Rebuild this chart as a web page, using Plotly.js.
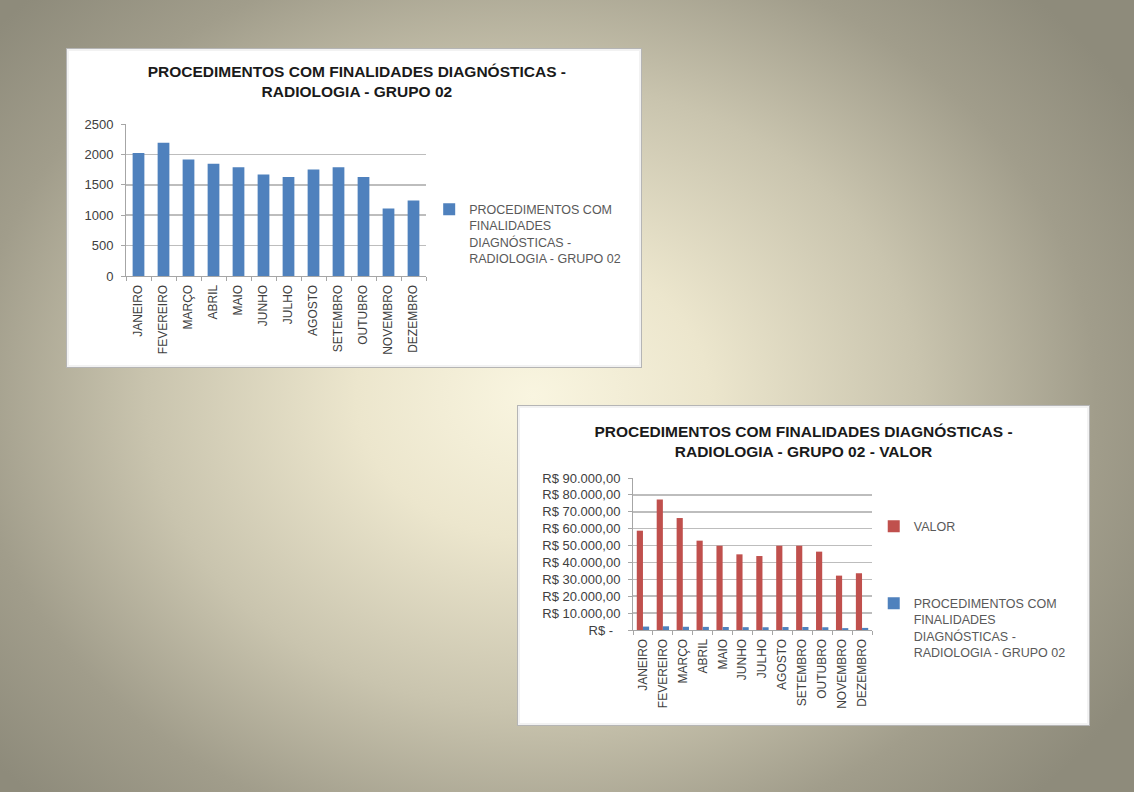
<!DOCTYPE html>
<html>
<head>
<meta charset="utf-8">
<script src="https://cdn.plot.ly/plotly-3.0.1.min.js"></script>
<style>
  html, body { margin:0; padding:0; width:1134px; height:792px; overflow:hidden; }
  body {
    background: radial-gradient(ellipse 62% 72% at 47% 50%, #f9f5e0 0%, #ece6cd 25%, #c9c4ae 55%, #a19d8b 80%, #8e8b7b 100%);
    font-family: "Liberation Sans", Arial, sans-serif;
  }
  .panel { position:absolute; background:#fff; border:1px solid #b5b5b5; box-shadow: inset 0 0 0 2px #f2f2f2; }
</style>
</head>
<body>
<div id="c1" class="panel" style="left:66px; top:48px; width:574px; height:318px;"></div>
<div id="c2" class="panel" style="left:517px; top:405px; width:571px; height:319px;"></div>
<script>
// ---- data ----
const months = ["JANEIRO","FEVEREIRO","MARÇO","ABRIL","MAIO","JUNHO","JULHO","AGOSTO","SETEMBRO","OUTUBRO","NOVEMBRO","DEZEMBRO"];
const procedimentos = [2025, 2190, 1915, 1845, 1790, 1670, 1630, 1750, 1790, 1630, 1110, 1240];
const valor = [58800, 77200, 66300, 52900, 49900, 44800, 43800, 49900, 49900, 46400, 32200, 33600];
const countTicks = [0, 500, 1000, 1500, 2000, 2500];
const valorTicks = [0, 10000, 20000, 30000, 40000, 50000, 60000, 70000, 80000, 90000];
const valorTickText = ["R$ -\u00a0\u00a0", "R$ 10.000,00", "R$ 20.000,00", "R$ 30.000,00", "R$ 40.000,00", "R$ 50.000,00", "R$ 60.000,00", "R$ 70.000,00", "R$ 80.000,00", "R$ 90.000,00"];
const title1 = "PROCEDIMENTOS COM FINALIDADES DIAGNÓSTICAS -<br>RADIOLOGIA - GRUPO 02";
const title2 = "PROCEDIMENTOS COM FINALIDADES DIAGNÓSTICAS -<br>RADIOLOGIA - GRUPO 02 - VALOR";
const seriesName = "PROCEDIMENTOS COM<br>FINALIDADES<br>DIAGNÓSTICAS -<br>RADIOLOGIA - GRUPO 02";
const valorName = "VALOR";

const BLUE = "#4F81BD", RED = "#C0504D";
const FONT = "Liberation Sans, Arial, sans-serif";
const tickFont = {family: FONT, size: 13, color: "#404040"};
const legFont = {family: FONT, size: 12.5, color: "#595959"};
const titleFont = {family: FONT, size: 15.5, color: "#1a1a1a", weight: "bold"};

function xaxisCfg() {
  return {
    type: "category", tickangle: -90, tickfont: {family: FONT, size: 12, color: "#404040"},
    showline: true, linecolor: "#a6a6a6", linewidth: 1,
    ticks: "outside", tickson: "boundaries", ticklen: 4, tickcolor: "#a6a6a6",
    ticklabelstandoff: 3, showgrid: false, fixedrange: true
  };
}
function yaxisCfg(extra) {
  return Object.assign({
    tickfont: tickFont, showgrid: true, gridcolor: "#bdbdbd", gridwidth: 1.5,
    showline: true, linecolor: "#a6a6a6", ticks: "outside", ticklen: 4, tickcolor: "#a6a6a6",
    ticklabelstandoff: 5, zeroline: false, fixedrange: true
  }, extra);
}

// ---- chart 1 ----
Plotly.newPlot("c1", [{
  type: "bar", x: months, y: procedimentos, name: seriesName,
  marker: {color: BLUE}, showlegend: true
}], {
  width: 574, height: 318,
  margin: {l: 59, r: 215, t: 75, b: 91},
  paper_bgcolor: "rgba(0,0,0,0)", plot_bgcolor: "rgba(0,0,0,0)",
  title: {text: title1, x: 0.505, xanchor: "center", y: 1 - 28/318, yanchor: "top", font: titleFont},
  bargap: 0.53,
  xaxis: xaxisCfg(),
  yaxis: yaxisCfg({range: [0, 2500], tickvals: countTicks}),
  showlegend: true,
  legend: {xref: "container", x: 0.631, xanchor: "left", y: 0.535, yanchor: "top", font: legFont, valign: "top",
           bgcolor: "rgba(0,0,0,0)", itemwidth: 30}
}, {displayModeBar: false, staticPlot: true});

// ---- chart 2 ----
Plotly.newPlot("c2", [{
  type: "bar", x: months, y: valor, name: valorName,
  marker: {color: RED}, legend: "legend"
}, {
  type: "bar", x: months, y: procedimentos, name: seriesName,
  marker: {color: BLUE}, legend: "legend2"
}], {
  width: 571, height: 319,
  margin: {l: 115, r: 217, t: 72, b: 95},
  paper_bgcolor: "rgba(0,0,0,0)", plot_bgcolor: "rgba(0,0,0,0)",
  title: {text: title2, x: 0.5, xanchor: "center", y: 1 - 31/319, yanchor: "top", font: titleFont},
  barmode: "group", bargap: 0.38, bargroupgap: 0,
  xaxis: xaxisCfg(),
  yaxis: yaxisCfg({range: [0, 90000], tickvals: valorTicks, ticktext: valorTickText}),
  showlegend: true,
  legend: {xref: "container", x: 0.623, xanchor: "left", y: 0.778, yanchor: "top", font: legFont, valign: "top", bgcolor: "rgba(0,0,0,0)", itemwidth: 30},
  legend2: {xref: "container", x: 0.623, xanchor: "left", y: 0.273, yanchor: "top", font: legFont, valign: "top", bgcolor: "rgba(0,0,0,0)", itemwidth: 30}
}, {displayModeBar: false, staticPlot: true});
</script>
</body>
</html>
